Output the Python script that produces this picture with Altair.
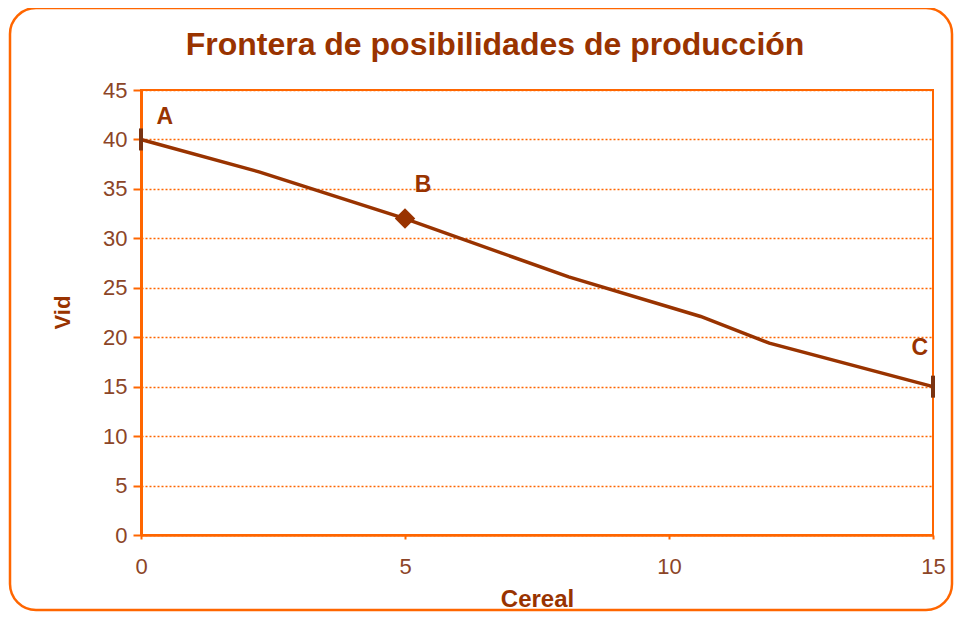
import altair as alt
import pandas as pd

# Chart title
title_text = ["Frontera de posibilidades de producción"]

# Frontier line (Cereal, Vid)
line_x = [0, 2.25, 5, 8.1, 10.6, 11.9, 15]
line_y = [40, 36.7, 32, 26.1, 22.1, 19.4, 15]

# Marked points
diamond_x = [5]
diamond_y = [32]
end_x = [0, 15]
end_y = [40, 15]

# Point labels
label_text = ["A", "B", "C"]
label_x = [0.45, 5.34, 14.75]
label_y = [42.3, 35.4, 18.96]

x_ticks = [0, 5, 10, 15]
y_ticks = [0, 5, 10, 15, 20, 25, 30, 35, 40, 45]

ORANGE = "#FF6600"
BROWN = "#993300"
LABEL = "#8C4527"
FONT = "Liberation Sans"

line_df = pd.DataFrame({"Cereal": line_x, "Vid": line_y})
dia_df = pd.DataFrame({"Cereal": diamond_x, "Vid": diamond_y})
end_df = pd.DataFrame({"Cereal": end_x, "Vid": end_y})
lab_df = pd.DataFrame({"Cereal": label_x, "Vid": label_y, "t": label_text})
frame_df = pd.DataFrame({"k": [0]})
title_df = pd.DataFrame({"t": title_text})

xs = alt.Scale(domain=[0, 15], nice=False, zero=False)
ys = alt.Scale(domain=[0, 45], nice=False)

x_axis = alt.Axis(values=x_ticks, title="Cereal", grid=False,
                  domainColor=ORANGE, domainWidth=2.5, tickColor=ORANGE,
                  tickSize=4, tickWidth=2, labelFontSize=22, labelColor=LABEL,
                  labelFont=FONT, labelPadding=17, labelFlush=False,
                  titleFont=FONT, titleFontSize=24, titleFontWeight="bold",
                  titleColor=BROWN, titleX=396, titleY=64, titleBaseline="middle")
y_axis = alt.Axis(values=y_ticks, title="Vid", grid=True, gridColor=ORANGE,
                  gridDash=[2, 2], gridWidth=1.6, gridOpacity=1,
                  domainColor=ORANGE, domainWidth=3, tickColor=ORANGE,
                  tickSize=8, tickWidth=2, labelFontSize=22, labelColor=LABEL,
                  labelFont=FONT, labelPadding=6,
                  titleFont=FONT, titleFontSize=22, titleFontWeight="bold",
                  titleColor=BROWN, titleX=-79, titleY=222, titleAngle=-90,
                  titleAlign="center", titleBaseline="middle")

frame = alt.Chart(frame_df).mark_rect(
    fill="transparent", stroke=ORANGE, strokeWidth=2.5, cornerRadius=26
).encode(x=alt.value(-131), x2=alt.value(811), y=alt.value(-82), y2=alt.value(520))

title = alt.Chart(title_df).mark_text(
    font=FONT, fontSize=32, fontWeight="bold", color=BROWN,
    align="center", baseline="alphabetic"
).encode(x=alt.value(354), y=alt.value(-35), text="t:N")

line = alt.Chart(line_df).mark_line(color=BROWN, strokeWidth=3.5).encode(
    x=alt.X("Cereal:Q", scale=xs, axis=x_axis),
    y=alt.Y("Vid:Q", scale=ys, axis=y_axis),
)

diamond = alt.Chart(dia_df).mark_point(
    shape="diamond", filled=True, color=BROWN, size=420, opacity=1
).encode(x=alt.X("Cereal:Q", scale=xs), y=alt.Y("Vid:Q", scale=ys))

ends = alt.Chart(end_df).mark_tick(
    orient="vertical", color="#7A3311", size=22, thickness=4, opacity=1
).encode(x=alt.X("Cereal:Q", scale=xs), y=alt.Y("Vid:Q", scale=ys))

labels = alt.Chart(lab_df).mark_text(
    font=FONT, fontSize=23, fontWeight="bold", color=BROWN,
    align="center", baseline="middle"
).encode(x=alt.X("Cereal:Q", scale=xs), y=alt.Y("Vid:Q", scale=ys), text="t:N")

chart = alt.layer(frame, title, line, diamond, ends, labels).properties(
    width=792, height=445,
    autosize=alt.AutoSizeParams(type="none"),
    padding={"left": 133, "top": 82, "right": 21, "bottom": 77},
).configure_view(stroke=ORANGE, strokeWidth=2)

chart.save("out.html", embed_options={"renderer": "svg", "actions": False})
